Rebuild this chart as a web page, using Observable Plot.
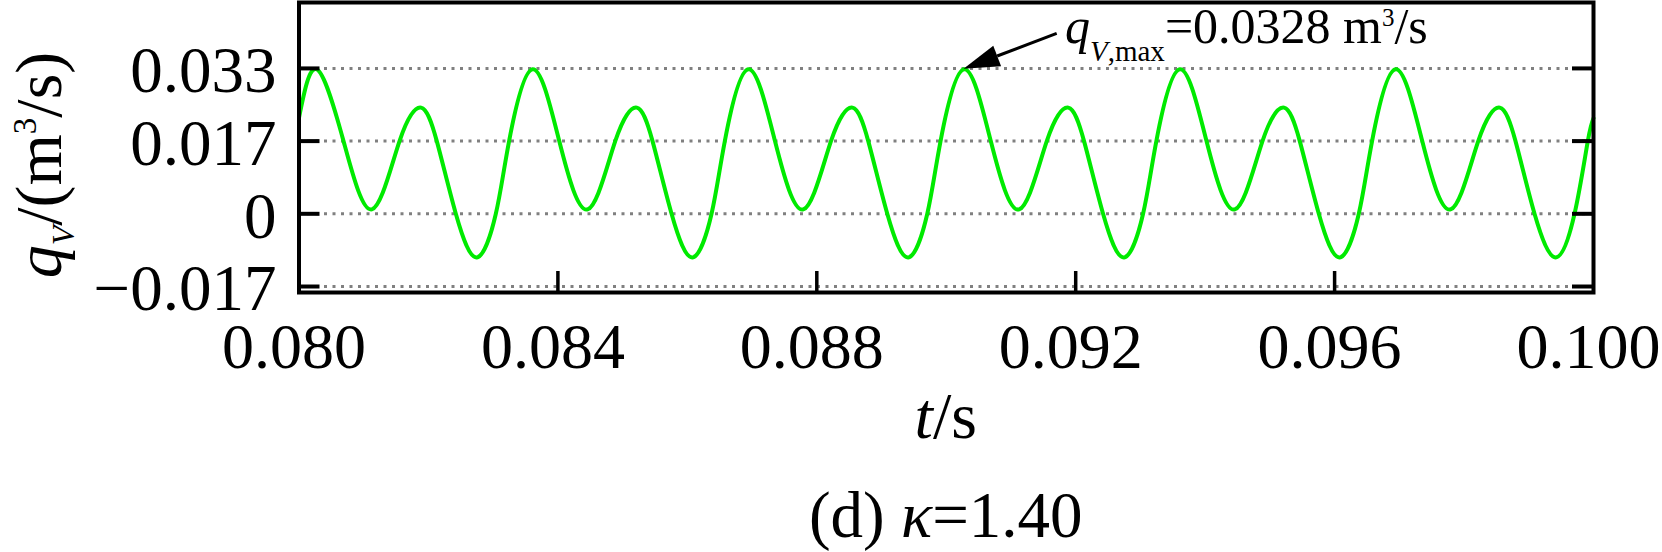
<!DOCTYPE html>
<html>
<head>
<meta charset="utf-8">
<script src="https://cdn.jsdelivr.net/npm/d3@7"></script>
<script src="https://cdn.jsdelivr.net/npm/@observablehq/plot@0.6"></script>
<style>
  html, body { margin: 0; padding: 0; background: #fff; }
  #chart svg { display: block; }
</style>
</head>
<body>
<div id="chart"></div>
<script>
// ---- data ----
const tValues = [0.080000,
  0.080275, 0.080688, 0.081125, 0.081553, 0.081886, 0.082129, 0.082423, 0.082747, 0.083041, 0.083246,
  0.083608, 0.084021, 0.084458, 0.084886, 0.085219, 0.085462, 0.085756, 0.086080, 0.086374, 0.086579,
  0.086941, 0.087354, 0.087791, 0.088219, 0.088552, 0.088795, 0.089089, 0.089413, 0.089707, 0.089912,
  0.090275, 0.090688, 0.091125, 0.091553, 0.091886, 0.092129, 0.092423, 0.092747, 0.093041, 0.093246,
  0.093608, 0.094021, 0.094458, 0.094886, 0.095219, 0.095462, 0.095756, 0.096080, 0.096374, 0.096579,
  0.096941, 0.097354, 0.097791, 0.098219, 0.098552, 0.098795, 0.099089, 0.099413, 0.099707, 0.099912,
  0.100000];
const qValues = [0.0218,
  0.0328, 0.0165, 0.0010, 0.0165, 0.0241, 0.0165, 0.0000, -0.0099, 0.0000, 0.0165,
  0.0328, 0.0165, 0.0010, 0.0165, 0.0241, 0.0165, 0.0000, -0.0099, 0.0000, 0.0165,
  0.0328, 0.0165, 0.0010, 0.0165, 0.0241, 0.0165, 0.0000, -0.0099, 0.0000, 0.0165,
  0.0328, 0.0165, 0.0010, 0.0165, 0.0241, 0.0165, 0.0000, -0.0099, 0.0000, 0.0165,
  0.0328, 0.0165, 0.0010, 0.0165, 0.0241, 0.0165, 0.0000, -0.0099, 0.0000, 0.0165,
  0.0328, 0.0165, 0.0010, 0.0165, 0.0241, 0.0165, 0.0000, -0.0099, 0.0000, 0.0165,
  0.0217];

const xTicks = [0.080, 0.084, 0.088, 0.092, 0.096, 0.100];
const xTickLabels = ["0.080", "0.084", "0.088", "0.092", "0.096", "0.100"];
const xInnerTicks = [0.084, 0.088, 0.092, 0.096];
const yTicks = [-0.0165, 0, 0.0165, 0.033];
const yTickLabels = ["\u22120.017", "0", "0.017", "0.033"];
const xDomain = [0.080, 0.100];
const yDomain = [-0.01786, 0.04796];

const peakPoint = {t: 0.090275, q: 0.0328};      // arrow tip
const arrowTail = {t: 0.091714, q: 0.04085};
const annotationAnchor = {t: 0.091842, q: 0.03865};
const annotationValue = "0.0328";
const captionText = "=1.40";

// ---- layout ----
const W = 1662, H = 552;
const mL = 298.5, mR = 69, mT = 2, mB = 260;
const innerW = W - mL - mR, innerH = H - mT - mB;
const FONT = "'Liberation Serif', 'Times New Roman', Times, serif";
const tickLen = 21;

const series = tValues.map((t, i) => ({t, q: qValues[i]}));

const plot = Plot.plot({
  width: W,
  height: H,
  marginLeft: mL,
  marginRight: mR,
  marginTop: mT,
  marginBottom: mB,
  style: {fontFamily: FONT, background: "white", color: "black", overflow: "visible"},
  x: {domain: xDomain},
  y: {domain: yDomain},
  marks: [
    Plot.ruleY(yTicks, {stroke: "#808080", strokeWidth: 3, strokeDasharray: "3,5.5"}),
    Plot.line(series, {x: "t", y: "q", stroke: "#00ea00", strokeWidth: 4, curve: "natural"}),
    Plot.tickX(xInnerTicks, {x: d => d, stroke: "black", strokeWidth: 3.5, insetTop: innerH - tickLen}),
    Plot.tickY(yTicks, {y: d => d, stroke: "black", strokeWidth: 4, insetRight: innerW - tickLen}),
    Plot.tickY(yTicks, {y: d => d, stroke: "black", strokeWidth: 4, insetLeft: innerW - tickLen}),
    Plot.axisX({
      ticks: xTicks,
      tickFormat: d => xTickLabels[xTicks.findIndex(v => Math.abs(v - d) < 1e-9)],
      tickSize: 0, tickPadding: 30, fontSize: 64, label: null, dx: -5
    }),
    Plot.axisY({
      ticks: yTicks,
      tickFormat: d => yTickLabels[yTicks.findIndex(v => Math.abs(v - d) < 1e-9)],
      tickSize: 0, tickPadding: 22.5, fontSize: 65, label: null, dy: 3
    }),
    Plot.frame({stroke: "black", strokeWidth: 4})
  ]
});

document.getElementById("chart").appendChild(plot);

// ---- rich text and annotation ----
const svg = d3.select(plot);
const sx = plot.scale("x"), sy = plot.scale("y");
const X = v => sx.apply(v), Y = v => sy.apply(v);
const cx = mL + innerW / 2;

// arrow
const tipX = X(peakPoint.t), tipY = Y(peakPoint.q);
const tailX = X(arrowTail.t), tailY = Y(arrowTail.q);
const ang = Math.atan2(tailY - tipY, tailX - tipX);
const headLen = 36, headHalf = 11;
const bx = tipX + headLen * Math.cos(ang), by = tipY + headLen * Math.sin(ang);
const px = -Math.sin(ang) * headHalf, py = Math.cos(ang) * headHalf;
svg.append("line")
  .attr("x1", tailX).attr("y1", tailY).attr("x2", bx).attr("y2", by)
  .attr("stroke", "black").attr("stroke-width", 3);
svg.append("path")
  .attr("d", `M${tipX},${tipY}L${bx + px},${by + py}L${bx - px},${by - py}Z`)
  .attr("fill", "black");

// annotation text
const ann = svg.append("text")
  .attr("x", X(annotationAnchor.t)).attr("y", Y(annotationAnchor.q))
  .attr("text-anchor", "start")
  .attr("font-family", FONT).attr("font-size", 50).attr("fill", "black");
ann.append("tspan").attr("font-style", "italic").text("q");
ann.append("tspan").attr("font-size", 29).attr("dy", 18).attr("font-style", "italic").text("V");
ann.append("tspan").attr("font-size", 29).text(",max");
ann.append("tspan").attr("dy", -18).text("=" + annotationValue + " m");
ann.append("tspan").attr("font-size", 25).attr("dy", -17).text("3");
ann.append("tspan").attr("dy", 17).text("/s");

// y title
const yt = svg.append("text")
  .attr("transform", `translate(61,${165}) rotate(-90)`)
  .attr("text-anchor", "middle")
  .attr("font-family", FONT).attr("font-size", 66).attr("fill", "black");
yt.append("tspan").attr("font-style", "italic").text("q");
yt.append("tspan").attr("font-size", 32).attr("dy", 13).attr("font-style", "italic").text("V");
yt.append("tspan").attr("dy", -13).text("/(m");
yt.append("tspan").attr("font-size", 33).attr("dy", -25).text("3");
yt.append("tspan").attr("dy", 25).text("/s)");

// x title
const xt = svg.append("text")
  .attr("x", cx).attr("y", H - mB + 146)
  .attr("text-anchor", "middle")
  .attr("font-family", FONT).attr("font-size", 66).attr("fill", "black");
xt.append("tspan").attr("font-style", "italic").text("t");
xt.append("tspan").text("/s");

// caption
const cap = svg.append("text")
  .attr("x", cx).attr("y", H - 15)
  .attr("text-anchor", "middle")
  .attr("font-family", FONT).attr("font-size", 65).attr("fill", "black");
cap.append("tspan").text("(d) ");
cap.append("tspan").attr("font-style", "italic").text("\u03BA");
cap.append("tspan").text(captionText);
</script>
</body>
</html>
